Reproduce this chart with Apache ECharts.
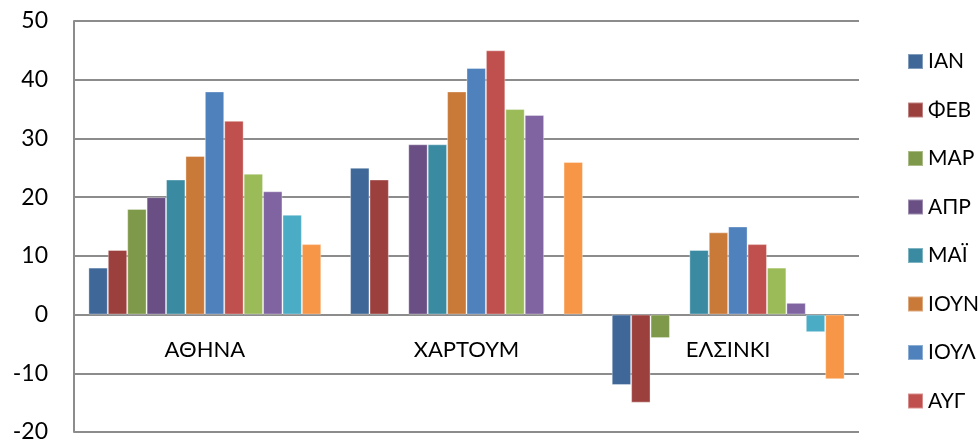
<!DOCTYPE html>
<html>
<head>
<meta charset="utf-8">
<script src="https://cdn.jsdelivr.net/npm/echarts@6/dist/echarts.min.js"></script>
<style>
  html, body { margin: 0; padding: 0; background: #fff; }
  #chart { width: 980px; height: 447px; }
</style>
</head>
<body>
<div id="chart"></div>
<script>
// Cities on the category axis
var cities = ['ΑΘΗΝΑ', 'ΧΑΡΤΟΥΜ', 'ΕΛΣΙΝΚΙ'];

// Months (one series each)
var months = ['ΙΑΝ', 'ΦΕΒ', 'ΜΑΡ', 'ΑΠΡ', 'ΜΑΪ', 'ΙΟΥΝ', 'ΙΟΥΛ', 'ΑΥΓ', 'ΣΕΠ', 'ΟΚΤ', 'ΝΟΕ', 'ΔΕΚ'];

// Temperature per city, month by month (null = no value)
var athens   = [8, 11, 18, 20, 23, 27, 38, 33, 24, 21, 17, 12];
var khartoum = [25, 23, null, 29, 29, 38, 42, 45, 35, 34, null, 26];
var helsinki = [-12, -15, -4, null, 11, 14, 15, 12, 8, 2, -3, -11];

// Value axis ticks
var yTicks = [-20, -10, 0, 10, 20, 30, 40, 50];

var colors = ['#3F6797', '#9C403E', '#7E9949', '#694F84', '#3A8BA2', '#CA7A38',
              '#4F81BD', '#C0504D', '#9BBB59', '#8064A2', '#4BACC6', '#F79646'];

var font = 'Lato, "Open Sans", "Noto Sans", sans-serif';

var gridTop = 21, gridBottom = 15, chartHeight = 447;
var plotHeight = chartHeight - gridTop - gridBottom;
var yMin = yTicks[0], yMax = yTicks[yTicks.length - 1];
// lift the category axis from the bottom edge up to the zero line
var zeroOffset = -plotHeight * (0 - yMin) / (yMax - yMin);

var series = months.map(function (m, i) {
  return {
    name: m,
    type: 'bar',
    barGap: '0%',
    barCategoryGap: '11%',
    data: [athens[i], khartoum[i], helsinki[i]],
    itemStyle: { color: colors[i], borderColor: 'rgba(255,255,255,0.35)', borderWidth: 1 }
  };
});

var chart = echarts.init(document.getElementById('chart'), null, { renderer: 'canvas' });
chart.setOption({
  animation: false,
  color: colors,
  grid: { left: 74, top: gridTop, right: 121, bottom: gridBottom, containLabel: false, outerBoundsMode: 'none' },
  legend: {
    orient: 'vertical',
    left: 902,
    top: 46,
    data: months.slice(0, 8),
    itemWidth: 15,
    itemHeight: 15,
    itemGap: 27.5,
    icon: 'rect',
    textStyle: { fontFamily: font, fontSize: 21, color: '#000', lineHeight: 21 }
  },
  xAxis: {
    type: 'category',
    data: cities,
    position: 'bottom',
    offset: zeroOffset,
    axisLine: { show: false, onZero: false },
    axisTick: { show: false },
    axisLabel: { fontFamily: font, fontSize: 22, color: '#000', margin: 24 }
  },
  yAxis: {
    type: 'value',
    min: yMin,
    max: yMax,
    interval: 10,
    axisLine: { show: true, lineStyle: { color: '#8c8c8c', width: 2 } },
    axisTick: { show: false },
    splitLine: { lineStyle: { color: '#8c8c8c', width: 2 } },
    axisLabel: { fontFamily: font, fontSize: 23, color: '#000', margin: 26, align: 'right' }
  },
  series: series
});
</script>
</body>
</html>
